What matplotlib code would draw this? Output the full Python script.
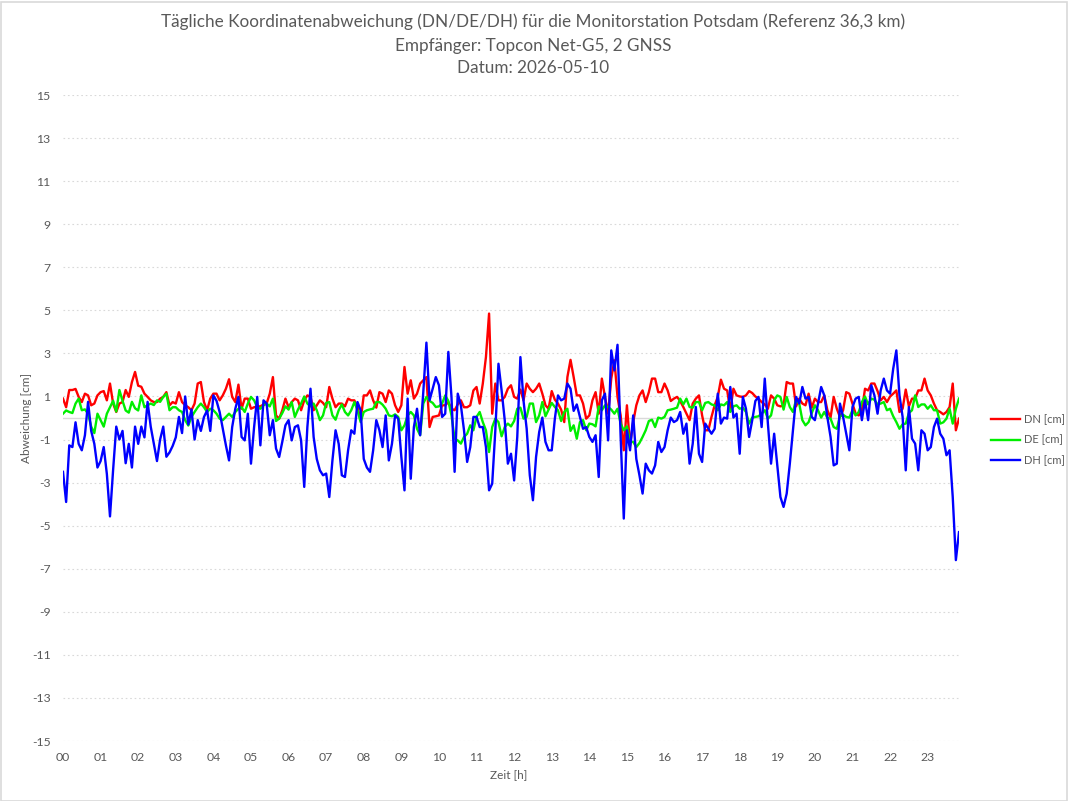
import numpy as np
import matplotlib
matplotlib.use("Agg")
import matplotlib.pyplot as plt
from matplotlib.patches import Rectangle

title_lines = ["Tägliche Koordinatenabweichung (DN/DE/DH) für die Monitorstation Potsdam (Referenz 36,3 km)",
               "Empfänger: Topcon Net-G5, 2 GNSS",
               "Datum: 2026-05-10"]
x_label = "Zeit [h]"
y_label = "Abweichung [cm]"
hour_labels = ["%02d" % h for h in range(24)]
y_ticks = list(range(-15, 16, 2))
series_names = ["DN [cm]", "DE [cm]", "DH [cm]"]

dn = [0.9,0.5,1.3,1.3,1.35,0.98,0.74,1.13,1.05,0.59,0.67,1.05,1.2,1.25,0.82,1.6,0.67,0.28,0.67,0.74,1.3,0.98,1.67,2.14,1.5,1.45,1.13,0.98,0.82,0.74,0.74,0.9,0.98,1.2,0.59,0.74,0.67,1.2,0.74,0.59,0.5,0.36,0.67,1.6,1.67,0.74,0.36,0.9,1.13,1.13,
      0.82,1.05,1.36,1.8,0.98,0.74,1.55,0.43,0.9,0.9,0.43,0.5,0.54,0.54,0.63,0.67,1.13,1.9,0.12,-0.03,0.36,0.9,0.5,0.74,0.9,0.82,0.36,0.82,1.05,0.98,0.36,0.59,0.82,0.7,0.5,1.44,0.9,0.5,0.67,0.67,0.54,0.9,0.82,0.82,0.5,-0.1,1.05,1.05,
      1.28,0.82,0.48,1.2,1.13,0.74,1.28,1.13,0.59,0.28,0.59,2.37,1.13,1.75,0.9,1.13,1.6,1.75,1.9,-0.42,0.05,0.08,0.12,0.59,0.59,0.74,0.43,0.36,0.63,0.82,0.5,0.5,0.59,1.28,1.44,0.67,1.6,2.83,4.85,0.2,1.6,0.82,0.82,0.98,1.36,1.52,0.98,0.9,
      1.32,0.82,1.6,1.36,1.2,1.36,1.6,1.13,0.59,0.43,1.25,0.85,0.67,0.39,-0.19,1.9,2.7,1.9,1.05,1.05,0.67,-0.03,0.12,0.82,1.2,0.2,1.83,0.98,0.2,1.83,2.68,0.98,0.12,-1.5,0.59,-1.27,-0.19,0.59,1.05,1.28,0.74,1.2,1.83,1.83,1.2,1.2,1.6,1.28,
      0.79,0.9,0.98,0.79,0.51,0.2,-0.1,0.67,0.9,1.05,0.12,-0.57,-0.57,0.05,0.59,0.98,1.78,1.36,1.28,0.36,1.36,1.05,1.0,0.98,1.05,1.25,1.16,1.0,0.9,0.74,0.63,0.43,1.05,0.9,0.59,0.54,0.59,1.67,1.6,1.6,0.54,0.9,0.67,0.59,1.13,0.48,0.9,0.74,
      0.74,1.05,0.36,0.02,0.98,0.43,0.05,0.36,1.2,1.13,0.67,0.2,0.12,0.36,1.36,1.28,1.6,1.6,1.25,0.82,0.98,0.74,1.0,1.13,1.28,0.28,0.43,1.32,0.54,0.9,0.9,1.28,1.28,1.83,1.28,1.05,0.67,0.36,0.28,0.17,0.28,0.51,1.6,-0.57,-0.03]

de = [0.2,0.35,0.28,0.23,0.67,0.9,0.36,0.4,0.2,-0.4,-0.7,0.2,-0.1,-0.4,0.2,0.5,0.8,0.3,1.3,0.8,0.35,0.25,0.75,0.45,0.35,1.05,0.5,0.6,0.67,0.6,0.82,0.75,0.98,1.13,0.36,0.5,0.5,0.36,0.28,-0.1,-0.35,0.05,0.28,0.5,0.67,0.5,0.28,0.43,0.36,0.2,
      -0.03,-0.1,0.05,0.2,0.05,0.28,0.43,0.5,0.28,0.67,0.98,0.82,0.5,0.43,0.59,0.67,0.54,0.9,-0.14,-0.03,0.23,0.54,0.39,0.74,0.05,0.39,0.67,1.0,0.67,0.54,0.67,0.36,-0.1,0.12,0.7,0.74,0.12,-0.08,0.36,0.63,0.28,0.12,0.36,0.74,0.36,-0.19,0.28,0.36,
      0.4,0.43,0.74,0.74,0.62,0.43,0.12,0.08,0.17,0.05,-0.57,-0.34,0.12,0.28,0.12,-0.5,-0.8,0.67,0.98,0.79,0.7,0.51,0.54,0.67,1.05,0.79,0.12,-0.96,-1.04,-1.19,-0.88,-0.73,-0.34,-0.57,0.05,0.28,-0.19,-0.57,-1.58,-0.42,-0.03,-0.19,-0.85,-0.42,-0.26,-0.39,-0.14,0.43,
      0.48,-0.03,0.05,0.67,0.67,-0.19,0.12,0.74,0.08,0.39,0.7,0.51,0.36,-0.14,0.28,0.43,-0.6,-0.34,-0.96,-0.19,-0.1,-0.57,-0.26,-0.29,-0.39,0.54,0.36,0.59,0.51,0.39,0.2,0.43,-0.26,-0.57,-0.39,-1.11,-1.11,-1.35,-1.16,-0.88,-0.57,-0.14,-0.08,-0.42,0.02,-0.03,0.05,0.36,
      0.39,0.43,0.48,0.9,0.63,0.9,0.51,0.48,0.74,0.74,0.36,0.7,0.74,0.63,0.59,0.36,0.63,0.59,0.74,0.28,0.54,0.59,0.43,0.48,0.28,-0.26,0.02,0.05,0.08,0.2,0.36,-0.03,0.12,0.82,1.05,0.98,0.39,0.98,0.51,0.28,0.85,0.67,-0.1,-0.34,-0.19,0.23,0.59,0.36,
      0.02,0.28,0.0,-0.03,-0.42,-0.5,0.08,0.15,0.05,0.02,0.36,0.12,0.28,0.74,1.0,0.63,0.9,0.85,0.63,0.67,0.74,0.36,0.43,0.08,-0.19,-0.5,-0.29,-0.26,0.23,0.36,1.05,0.51,0.63,0.63,0.43,0.59,0.36,0.36,-0.26,-0.2,-0.03,0.43,-0.26,0.43,0.9]

dh = [-2.5,-3.9,-1.27,-1.35,-0.2,-1.2,-1.5,-0.8,0.75,-0.6,-1.2,-2.3,-2.0,-1.35,-2.6,-4.57,-2.4,-0.4,-1.0,-0.6,-2.1,-1.2,-2.3,-0.4,-1.2,-0.4,-0.9,0.75,-0.4,-1.2,-2.0,-1.0,-0.4,-1.8,-1.6,-1.3,-0.9,0.05,-0.7,1.0,-0.3,0.4,-1.0,-0.1,-0.6,0.05,0.35,-0.6,1.05,0.8,
      0.28,-0.5,-1.27,-1.97,-0.42,0.43,0.98,-0.88,-1.04,0.2,-2.12,-0.42,0.98,-1.27,0.82,0.67,-0.8,-0.1,-1.42,-1.81,-1.1,-0.34,-0.1,-1.04,-0.42,-0.34,-1.04,-3.2,-0.42,1.36,-0.88,-1.9,-2.43,-2.66,-2.58,-3.67,-1.97,-0.57,-1.2,-2.66,-2.74,-1.5,-0.57,-0.73,0.74,0.36,-1.9,-2.3,
      -2.5,-1.5,-0.1,-0.57,-1.35,0.12,-1.97,-1.2,0.12,-0.03,-1.81,-3.36,0.9,-2.82,-0.42,0.43,-0.8,1.2,3.5,0.82,1.36,1.9,1.52,0.05,0.2,3.07,0.98,-2.5,1.13,0.59,-0.57,-2.04,-1.35,0.05,0.05,-0.42,-0.42,-1.35,-3.36,-3.05,-0.57,2.52,1.28,-0.1,-2.12,-1.66,-2.9,-0.88,
      2.83,0.8,-0.5,-2.66,-3.82,-1.81,-0.65,0.02,-1.11,-1.5,-1.5,-0.03,1.05,0.82,0.9,1.6,1.36,0.33,0.63,0.05,-0.5,-0.42,-0.88,-1.11,-0.8,-2.74,0.82,1.13,-1.04,3.14,2.21,3.4,-0.88,-4.67,-0.57,-1.5,0.12,-1.9,-2.66,-3.51,-2.12,-2.43,-2.58,-2.2,-1.11,-1.58,-1.35,-0.57,
      0.02,-0.19,-0.1,0.28,-0.73,-0.26,-2.12,-1.2,0.51,-1.66,-2.04,-0.26,-0.5,-0.73,-0.5,1.13,-0.26,0.02,-0.03,1.44,0.02,0.2,-1.66,0.98,0.43,-0.88,-0.1,0.79,0.98,-0.42,1.83,-0.26,-2.12,-0.73,-2.2,-3.67,-4.13,-3.51,-2.12,-0.57,0.98,0.67,1.44,0.9,0.98,0.05,-0.1,0.67,
      1.44,1.05,0.02,-0.88,-2.2,-2.12,0.67,0.05,-0.73,-1.5,0.51,0.9,0.98,-0.1,0.82,-0.1,1.52,1.05,0.2,1.28,1.83,1.28,1.13,2.29,3.14,1.05,0.05,-2.43,0.51,-0.96,-1.19,-2.43,-0.57,-0.73,-1.5,-1.35,-0.42,-0.03,-0.73,-0.96,-1.73,-1.5,-3.67,-6.6,-5.3]

colors = ["#ff0000", "#00ee00", "#0000ff"]
text_color = "#595959"
grid_color = "#d9d9d9"
font = ["Lato", "DejaVu Sans"]
plt.rcParams['font.family'] = font

W, H = 1068, 801
fig = plt.figure(figsize=(W / 100, H / 100), dpi=100)
fig.patch.set_facecolor("white")
fig.add_artist(Rectangle((0.5 / W, 0.5 / H), 1 - 2 / W, 1 - 2 / H, transform=fig.transFigure,
                         fill=False, edgecolor=grid_color, linewidth=1.2))

ax = fig.add_axes([63 / W, 1 - 741 / H, (959 - 63) / W, (741 - 95) / H])
for s in ax.spines.values():
    s.set_visible(False)

for v in y_ticks:
    ax.axhline(v, color=grid_color, lw=0.8, linestyle=(0, (1.5, 2.5)), zorder=0)
ax.axhline(0, color=grid_color, lw=1.0, zorder=0.5)

npts = max(len(dn), len(de), len(dh))
handles = []
for data, c, name in zip([dn, de, dh], colors, series_names):
    h, = ax.plot(np.arange(len(data)), data, color=c, lw=1.7, label=name, solid_joinstyle="round")
    handles.append(h)

ax.set_xlim(0, npts - 1)
ax.set_ylim(-15, 15)
ax.set_xticks(np.arange(0, 24 * 12, 12))
ax.set_xticklabels(hour_labels)
ax.set_yticks(y_ticks)
ax.set_yticklabels([str(v) for v in y_ticks])
ax.tick_params(axis="both", length=0, labelsize=8.8, labelcolor=text_color)
ax.tick_params(axis="y", pad=9)
ax.tick_params(axis="x", pad=8)

fig.text(509 / W, 1 - 775 / H, x_label, ha="center", va="center", fontsize=8.5, color=text_color)
fig.text(27 / W, 1 - 418 / H, y_label, ha="center", va="center", rotation=90, fontsize=8.5, color=text_color)

for line, yy in zip(title_lines, [22, 46, 68]):
    fig.text(533 / W, 1 - yy / H, line, ha="center", va="center", fontsize=12.3, color=text_color)

fig.legend(handles=handles, loc="center left", bbox_to_anchor=(981 / W, 1 - 440 / H), frameon=False,
           fontsize=8, labelcolor=text_color, handlelength=2.6, handletextpad=0.4, labelspacing=0.85)

fig.savefig("out.png", dpi=100)
